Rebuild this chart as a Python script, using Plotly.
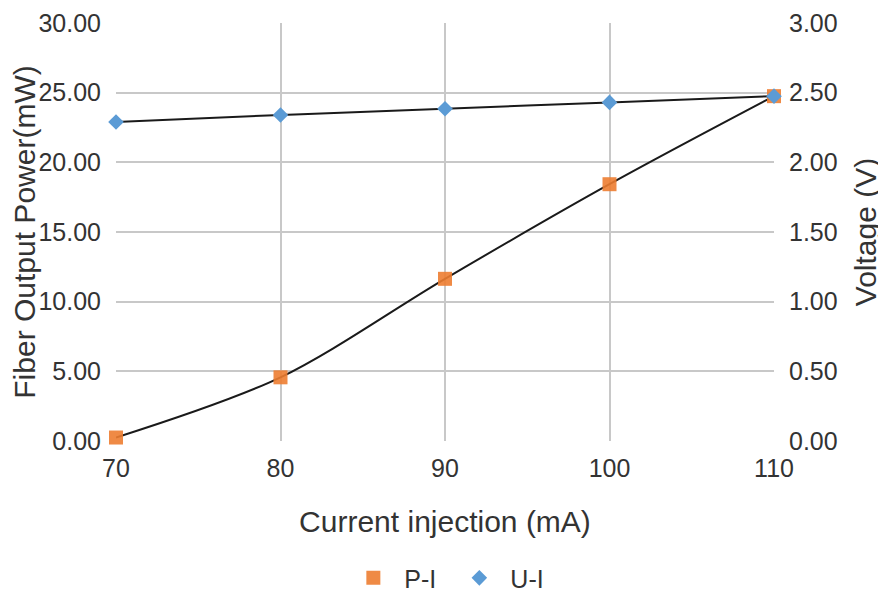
import plotly.graph_objects as go

# values
current_ma = [70, 80, 90, 100, 110]
power_mw = [0.25, 4.57, 11.64, 18.43, 24.75]
voltage_v = [2.29, 2.34, 2.385, 2.43, 2.475]

left_ticks = [0, 5, 10, 15, 20, 25, 30]
right_ticks = [0, 0.5, 1.0, 1.5, 2.0, 2.5, 3.0]

font_color = "#333333"
grid_color = "#c8c8c8"

fig = go.Figure()

# P-I on left axis
fig.add_trace(go.Scatter(
    x=current_ma, y=power_mw,
    mode="lines", line=dict(color="#1a1a1a", width=2, shape="spline", smoothing=0.9),
    showlegend=False, hoverinfo="skip", cliponaxis=False
))
fig.add_trace(go.Scatter(
    x=current_ma, y=power_mw, name="P-I", cliponaxis=False,
    mode="markers", marker=dict(symbol="square", size=14, color="#ed7d31", opacity=0.9)
))

# U-I on right axis
fig.add_trace(go.Scatter(
    x=current_ma, y=voltage_v, yaxis="y2",
    mode="lines", line=dict(color="#1a1a1a", width=2, shape="spline"),
    showlegend=False, hoverinfo="skip", cliponaxis=False
))
fig.add_trace(go.Scatter(
    x=current_ma, y=voltage_v, name="U-I", yaxis="y2", cliponaxis=False,
    mode="markers", marker=dict(symbol="diamond", size=12, color="#5b9bd5")
))

fig.update_layout(
    width=886, height=592,
    margin=dict(l=108, r=120, t=15, b=159),
    plot_bgcolor="white", paper_bgcolor="white",
    font=dict(family="Liberation Sans, Arial, sans-serif", size=25, color=font_color),
    xaxis=dict(
        range=[70, 110], tickvals=[70, 80, 90, 100, 110],
        showgrid=True, gridcolor=grid_color, gridwidth=1.5,
        zeroline=False, showline=False, ticks="", ticklabelstandoff=10,
        ticklabeloverflow="allow", automargin=False,
        title=dict(text="Current injection (mA)", standoff=29),
    ),
    yaxis=dict(
        range=[0, 30], tickvals=left_ticks, tickformat=".2f",
        showgrid=True, gridcolor=grid_color, gridwidth=1.5,
        zeroline=False, showline=False, ticks="", ticklabelstandoff=14,
        ticklabeloverflow="allow", automargin=False,
        title=dict(text="Fiber Output Power(mW)", standoff=0),
    ),
    yaxis2=dict(
        range=[0, 3], tickvals=right_ticks, tickformat=".2f",
        overlaying="y", side="right", showgrid=False,
        zeroline=False, showline=False, ticks="", ticklabelstandoff=14,
        ticklabeloverflow="allow", automargin=False,
        title=dict(text="Voltage (V)", standoff=18),
    ),
    # container ref so the legend does not push the bottom margin
    legend=dict(
        orientation="h", x=0.344, xanchor="left",
        yref="container", y=0.037, yanchor="middle",
        itemwidth=52, entrywidth=39, entrywidthmode="pixels",
        font=dict(size=25, color=font_color),
    ),
)

fig.write_html("out.html")
